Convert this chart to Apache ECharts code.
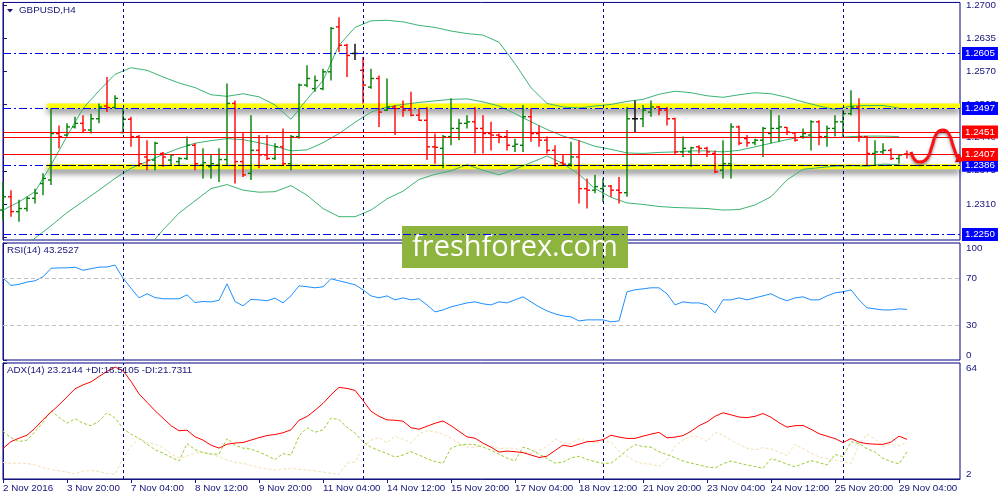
<!DOCTYPE html>
<html><head><meta charset="utf-8">
<script src="https://cdn.jsdelivr.net/npm/echarts@6/dist/echarts.min.js"></script>
<style>html,body{margin:0;padding:0;background:#fff}#c{width:1000px;height:500px}</style>
</head><body><div id="c"></div>
<script>
// ---------- DATA ----------
const tickLabels = ['2 Nov 2016','3 Nov 20:00','7 Nov 04:00','8 Nov 12:00','9 Nov 20:00','11 Nov 04:00','14 Nov 12:00','15 Nov 20:00','17 Nov 04:00','18 Nov 12:00','21 Nov 20:00','23 Nov 04:00','24 Nov 12:00','25 Nov 20:00','29 Nov 04:00'];
const barsPerLabel = 8;
const open  = [1.2298,1.2324,1.2295,1.2301,1.2321,1.2350,1.2357,1.2448,1.2445,1.2461,1.2468,1.2455,1.2477,1.2502,1.2499,1.2450,1.2476,1.2442,1.2402,1.2396,1.2409,1.2396,1.2393,1.2399,1.2425,1.2386,1.2383,1.2386,1.2397,1.2507,1.2393,1.2370,1.2415,1.2406,1.2399,1.2422,1.2389,1.2442,1.2543,1.2536,1.2536,1.2569,1.2657,1.2621,1.2605,1.2572,1.2539,1.2556,1.2494,1.2500,1.2500,1.2494,1.2484,1.2474,1.2422,1.2419,1.2442,1.2458,1.2468,1.2471,1.2458,1.2448,1.2445,1.2442,1.2423,1.2425,1.2481,1.2448,1.2435,1.2415,1.2391,1.2388,1.2402,1.2340,1.2337,1.2340,1.2345,1.2337,1.2332,1.2477,1.2477,1.2490,1.2500,1.2494,1.2477,1.2412,1.2412,1.2422,1.2419,1.2409,1.2376,1.2389,1.2461,1.2438,1.2430,1.2435,1.2448,1.2458,1.2460,1.2449,1.2442,1.2445,1.2471,1.2442,1.2458,1.2471,1.2487,1.2500,1.2442,1.2409,1.2412,1.2415,1.2399,1.2408];
const high  = [1.2353,1.2337,1.2318,1.2324,1.2340,1.2370,1.2497,1.2464,1.2468,1.2481,1.2484,1.2487,1.2507,1.2559,1.2523,1.2497,1.2481,1.2445,1.2435,1.2432,1.2412,1.2408,1.2402,1.2442,1.2429,1.2419,1.2406,1.2419,1.2546,1.2513,1.2451,1.2484,1.2445,1.2445,1.2429,1.2458,1.2445,1.2546,1.2582,1.2562,1.2575,1.2657,1.2676,1.2624,1.2624,1.2598,1.2575,1.2562,1.2556,1.2504,1.2513,1.2530,1.2497,1.2500,1.2448,1.2445,1.2517,1.2477,1.2484,1.2500,1.2484,1.2471,1.2448,1.2455,1.2438,1.2504,1.2497,1.2464,1.2442,1.2425,1.2406,1.2432,1.2435,1.2360,1.2367,1.2360,1.2347,1.2363,1.2500,1.2513,1.2504,1.2513,1.2502,1.2500,1.2479,1.2442,1.2422,1.2425,1.2422,1.2415,1.2435,1.2468,1.2464,1.2445,1.2438,1.2461,1.2494,1.2484,1.2461,1.2451,1.2458,1.2474,1.2474,1.2464,1.2484,1.2494,1.2533,1.2517,1.2443,1.2435,1.2429,1.2419,1.2408,1.2415];
const low   = [1.2278,1.2285,1.2275,1.2295,1.2311,1.2327,1.2347,1.2419,1.2442,1.2458,1.2451,1.2448,1.2468,1.2490,1.2497,1.2448,1.2422,1.2383,1.2376,1.2376,1.2383,1.2386,1.2386,1.2396,1.2376,1.2360,1.2360,1.2353,1.2386,1.2350,1.2363,1.2357,1.2380,1.2396,1.2396,1.2386,1.2376,1.2438,1.2539,1.2530,1.2533,1.2552,1.2608,1.2559,1.2592,1.2507,1.2536,1.2461,1.2492,1.2445,1.2481,1.2482,1.2473,1.2396,1.2389,1.2380,1.2425,1.2435,1.2458,1.2409,1.2409,1.2415,1.2429,1.2415,1.2412,1.2412,1.2432,1.2422,1.2409,1.2383,1.2386,1.2383,1.2311,1.2301,1.2331,1.2314,1.2324,1.2311,1.2324,1.2451,1.2461,1.2481,1.2484,1.2464,1.2408,1.2402,1.2383,1.2409,1.2402,1.2370,1.2360,1.2360,1.2425,1.2422,1.2425,1.2402,1.2429,1.2432,1.2445,1.2432,1.2438,1.2415,1.2425,1.2422,1.2442,1.2442,1.2484,1.2432,1.2386,1.2386,1.2406,1.2396,1.2389,1.2399];
const close = [1.2324,1.2295,1.2301,1.2321,1.2331,1.2360,1.2448,1.2442,1.2461,1.2468,1.2455,1.2477,1.2500,1.2499,1.2517,1.2476,1.2442,1.2389,1.2396,1.2429,1.2402,1.2406,1.2399,1.2425,1.2389,1.2391,1.2389,1.2397,1.2507,1.2393,1.2367,1.2415,1.2406,1.2399,1.2422,1.2389,1.2442,1.2543,1.2556,1.2552,1.2569,1.2654,1.2621,1.2601,1.2605,1.2543,1.2556,1.2490,1.2500,1.2497,1.2494,1.2484,1.2474,1.2422,1.2421,1.2442,1.2458,1.2468,1.2471,1.2458,1.2448,1.2445,1.2442,1.2425,1.2427,1.2481,1.2448,1.2435,1.2415,1.2389,1.2388,1.2402,1.2340,1.2337,1.2344,1.2345,1.2337,1.2332,1.2477,1.2477,1.2494,1.2500,1.2494,1.2477,1.2412,1.2419,1.2420,1.2419,1.2412,1.2373,1.2389,1.2461,1.2429,1.2430,1.2435,1.2458,1.2458,1.2461,1.2451,1.2435,1.2448,1.2471,1.2442,1.2458,1.2471,1.2487,1.2500,1.2442,1.2409,1.2412,1.2415,1.2399,1.2406,1.2407];
// Bollinger bands (20), read every 2nd bar
const bbStep = 2;
const bbUpper  = [1.2298,1.2314,1.2334,1.2386,1.2443,1.2497,1.2532,1.2564,1.2577,1.2572,1.2559,1.2547,1.2538,1.2524,1.2521,1.2526,1.2520,1.2504,1.2476,1.2515,1.2552,1.2621,1.2656,1.2669,1.2670,1.2667,1.2660,1.2656,1.2649,1.2644,1.2641,1.2627,1.2585,1.2538,1.2507,1.2500,1.2498,1.2502,1.2505,1.2511,1.2515,1.2525,1.2531,1.2528,1.2522,1.2519,1.2524,1.2528,1.2526,1.2519,1.2510,1.2502,1.2495,1.2502,1.2503,1.2503,1.2498];
const bbMiddle = [1.2192,1.2217,1.2243,1.2267,1.2293,1.2315,1.2337,1.2360,1.2380,1.2393,1.2407,1.2419,1.2429,1.2434,1.2438,1.2436,1.2430,1.2423,1.2414,1.2416,1.2430,1.2448,1.2470,1.2490,1.2500,1.2505,1.2509,1.2512,1.2515,1.2516,1.2510,1.2502,1.2487,1.2471,1.2456,1.2443,1.2434,1.2423,1.2417,1.2410,1.2409,1.2411,1.2412,1.2414,1.2414,1.2412,1.2415,1.2422,1.2429,1.2436,1.2442,1.2440,1.2440,1.2442,1.2443,1.2443,1.2442];
const bbLower  = [null,null,null,null,null,null,null,null,1.2187,1.2223,1.2259,1.2292,1.2316,1.2340,1.2348,1.2337,1.2333,1.2334,1.2346,1.2327,1.2301,1.2285,1.2285,1.2298,1.2320,1.2335,1.2358,1.2368,1.2375,1.2387,1.2376,1.2367,1.2378,1.2391,1.2404,1.2389,1.2368,1.2340,1.2323,1.2312,1.2309,1.2305,1.2303,1.2302,1.2301,1.2298,1.2299,1.2308,1.2324,1.2357,1.2378,1.2381,1.2384,1.2385,1.2384,1.2388,1.2387];
const rsi = [70.0,63.7,64.7,66.6,67.7,71.1,78.4,78.7,78.8,79.3,76.7,78.0,79.4,79.5,81.1,70.0,61.4,53.1,56.6,53.4,52.3,52.3,52.3,55.7,49.1,50.0,49.7,51.0,65.1,50.0,46.3,51.8,51.4,50.6,52.9,48.8,54.8,63.4,
  62.6,61.7,62.6,69.4,67.7,66.0,64.3,60.0,54.8,53.1,54.8,51.4,53.1,51.4,52.3,47.1,41.1,42.8,45.4,47.1,48.8,49.7,48.0,47.1,49.7,48.8,51.4,54.0,49.7,45.4,42.0,39.4,37.7,36.8,33.4,34.3,34.3,34.3,32.6,33.4,58.3,60.0,60.8,61.7,61.7,56.6,47.1,49.7,48.8,48.8,47.1,40.3,51.4,51.4,53.1,51.4,53.1,54.8,56.6,53.1,50.6,53.1,54.0,51.4,51.4,54.8,57.4,58.3,60.0,51.4,44.6,43.7,42.8,42.8,43.7,43.25];
const adx = [18.3,22.0,23.8,25.4,29.1,33.7,37.7,41.6,45.9,50.2,52.3,53.9,56.8,59.5,61.8,60.0,54.2,47.5,43.0,38.5,34.5,30.5,27.8,28.1,24.6,22.8,20.1,18.5,20.6,21.2,21.5,22.8,24.1,25.2,25.8,26.7,28.3,33.4,35.4,38.7,42.4,47.0,51.0,50.4,49.4,44.0,38.2,35.5,33.6,33.4,32.9,29.4,28.6,30.2,31.8,33.0,30.5,27.5,24.5,23.8,21.2,19.0,16.4,16.9,16.6,16.1,14.8,13.5,14.2,17.2,20.1,19.3,20.6,21.9,22.2,23.0,25.4,24.4,23.7,23.7,24.9,26.0,26.9,24.0,24.4,25.2,27.5,30.5,32.5,35.5,37.4,36.3,35.1,34.8,35.5,37.0,35.0,32.1,29.7,30.5,30.6,28.6,26.2,24.9,23.6,21.5,23.6,21.7,20.9,20.6,20.5,21.7,24.9,23.2];
const plusDI = [27.5,24.1,22.0,22.8,27.3,32.3,38.5,35.0,31.8,34.2,31.8,30.5,32.9,37.4,34.7,29.0,25.9,23.8,20.6,17.7,15.8,13.7,11.6,20.9,17.7,16.1,15.3,15.3,23.6,20.1,18.5,18.0,16.4,14.5,12.4,15.6,14.8,24.9,29.4,27.0,28.3,34.5,33.7,29.7,26.5,21.9,19.0,17.2,15.6,13.7,14.8,16.6,14.8,12.9,11.3,10.4,18.5,20.1,20.6,20.4,19.0,17.4,15.3,13.2,11.6,19.0,17.7,15.3,12.9,10.5,11.0,13.2,14.2,12.4,11.3,10.4,10.4,13.7,17.4,20.4,19.3,19.0,16.6,15.0,13.4,11.6,10.5,9.5,8.4,7.9,10.2,11.6,10.5,9.5,8.7,7.7,12.9,11.6,10.0,8.5,10.2,11.8,10.8,9.5,15.1,13.9,21.9,20.9,18.2,16.4,13.0,11.3,10.1,16.5];
const minusDI = [10.9,10.4,10.5,10.2,9.5,8.1,7.1,6.5,5.7,4.7,6.3,6.5,6.0,4.9,4.7,13.0,19.6,23.6,21.4,20.6,18.8,15.3,13.2,14.2,15.8,16.4,15.3,14.0,12.1,11.0,10.4,9.2,8.1,7.3,6.8,7.3,7.6,7.2,6.9,6.3,5.8,4.9,4.4,10.5,11.0,19.0,22.8,24.1,21.4,24.9,23.3,21.2,26.0,27.8,27.3,26.0,23.8,21.2,19.0,19.0,20.1,19.3,18.3,18.5,18.5,16.4,15.7,17.4,19.3,23.6,21.2,20.9,23.6,22.2,21.2,22.0,21.7,16.9,14.2,11.6,10.2,10.0,8.7,12.1,19.6,22.8,24.9,24.4,22.0,27.0,25.4,22.8,20.4,18.5,17.6,18.8,18.0,16.4,14.5,20.5,18.2,15.8,13.7,12.9,12.1,11.2,10.4,20.1,26.0,23.3,19.3,20.6,19.8,21.7];
const priceTicks = [1.2700,1.2635,1.2570,1.2505,1.2440,1.2375,1.2310,1.2245];
const rsiTicks = [0,30,70,100];
const rsiLevels = [70,30];
const adxTicks = [2,64];
const blueLevels = [1.2605,1.2497,1.2386,1.2250];      // labelled
const redLevelsLabelled = [1.2451,1.2407];
const redLevelsPlain = [1.2440];
const trendLevel = 1.2386;
const resistanceZone = [1.2497,1.2507];
const supportZone = [1.2378,1.2388];
const zoneStartBar = 5.5;
const weekStartBars = [15,45,75,105];
const forecastPath = [[113.5,1.2412],[114.0,1.2396],[114.6,1.2392],[115.5,1.2399],[116.1,1.2422],[116.7,1.2448],[117.5,1.2455],[118.2,1.2448],[118.8,1.2422],[119.4,1.2399],[119.8,1.2396]];

// ---------- CHART ----------
const NAVY = '#14147a';
const FONT = "'Liberation Sans', Arial, sans-serif";
const X_MAX = 119.625;
const chart = echarts.init(document.getElementById('c'), null, {renderer:'canvas'});
const tickPos = tickLabels.map((_, k) => k * barsPerLabel);

function xAxisCfg(idx, showLabels){
  return {
    type:'value', gridIndex: idx, min:0, max:X_MAX,
    axisLine:{show:showLabels, lineStyle:{color:NAVY}},
    splitLine:{show:false},
    axisTick:{show:showLabels, customValues: tickPos, length:4, lineStyle:{color:NAVY}},
    axisLabel:{show:showLabels, customValues: tickPos, align:'left', margin:4, color:NAVY, fontSize:9.8, fontFamily:FONT,
      formatter: v => tickLabels[Math.round(v / barsPerLabel)] || ''}
  };
}
function yAxisCfg(idx, min, max, ticks, fmt, edgeAlign){
  const lab = {show:true, customValues: ticks, margin:6, color:NAVY, fontSize:9.8, fontFamily:FONT, formatter: fmt};
  if (edgeAlign) { lab.verticalAlignMaxLabel = 'top'; lab.verticalAlignMinLabel = 'bottom'; }
  return {
    type:'value', gridIndex: idx, position:'right', min, max,
    axisLine:{show:true, lineStyle:{color:NAVY}},
    splitLine:{show:false},
    axisTick:{show:true, customValues: ticks, length:4, lineStyle:{color:NAVY}},
    axisLabel: lab
  };
}
const sepLines = weekStartBars.map(b => ({xAxis:b, lineStyle:{color:'#000080', type:[3,3], width:1}, label:{show:false}}));

function boxLabel(bg){
  return {show:true, position:'end', distance:2, formatter: p => Number(p.value).toFixed(4),
    backgroundColor:bg, color:'#ffffff', fontSize:9.8, fontFamily:FONT, padding:[2,3,1,3]};
}
const priceMarks = [].concat(
  sepLines,
  blueLevels.map(v => ({yAxis:v, lineStyle:{color:'#0000ff', type:[8,3,2,3], width:1}, label:boxLabel('#0000ff')})),
  redLevelsPlain.map(v => ({yAxis:v, lineStyle:{color:'#ff0000', type:'solid', width:1}, label:{show:false}})),
  redLevelsLabelled.map(v => ({yAxis:v, lineStyle:{color:'#ff0000', type:'solid', width:1}, label:boxLabel('#ff0000')})),
  [[{coord:[zoneStartBar, trendLevel], lineStyle:{color:'#000000', type:[5,3], width:1.2}, label:{show:false}}, {coord:[X_MAX, trendLevel]}]]
);

const ohlcData = open.map((o, i) => [i, o, high[i], low[i], close[i]]);
const bbSeries = (arr) => arr.map((v, k) => [k * bbStep, v]);
const zones = [[zoneStartBar, X_MAX, resistanceZone[0], resistanceZone[1]], [zoneStartBar, X_MAX, supportZone[0], supportZone[1]]];
const nP = forecastPath.length;
const arrowData = [[forecastPath[nP-2][0], forecastPath[nP-2][1], forecastPath[nP-1][0], forecastPath[nP-1][1]]];

const option = {
  animation:false,
  backgroundColor:'#ffffff',
  textStyle:{fontFamily:FONT},
  grid:[
    {left:3, right:40, top:2, height:238, show:true, borderColor:'#000080', borderWidth:1, backgroundColor:'#fff'},
    {left:3, right:40, top:243, height:117, show:true, borderColor:'#000080', borderWidth:1, backgroundColor:'#fff'},
    {left:3, right:40, top:363, height:116, show:true, borderColor:'#000080', borderWidth:1, backgroundColor:'#fff'}
  ],
  xAxis:[xAxisCfg(0,false), xAxisCfg(1,false), xAxisCfg(2,true)],
  yAxis:[
    yAxisCfg(0, 1.22393, 1.27050, priceTicks, v => Number(v).toFixed(4), false),
    yAxisCfg(1, 0, 100, rsiTicks, v => String(v), true),
    yAxisCfg(2, 2, 64, adxTicks, v => String(v), true)
  ],
  graphic:[
    {type:'polygon', shape:{points:[[7,9],[13,9],[10,12.5]]}, style:{fill:NAVY}, z:100},
    {type:'text', left:19, top:5, style:{text:'GBPUSD,H4', fill:NAVY, font:'9.8px ' + FONT}, z:100},
    {type:'text', left:7, top:245, style:{text:'RSI(14) 43.2527', fill:NAVY, font:'9.8px ' + FONT}, z:100},
    {type:'text', left:7, top:365, style:{text:'ADX(14) 23.2144 +DI:16.5105 -DI:21.7311', fill:NAVY, font:'9.8px ' + FONT}, z:100},
    {type:'group', z:200, children:[
      {type:'rect', shape:{x:402, y:226, width:226, height:42}, style:{fill:'#8cb43f'}},
      {type:'text', x:515, y:248, style:{text:'freshforex.com', fill:'#ffffff', font:'29px "Open Sans", "Noto Sans", sans-serif', align:'center', verticalAlign:'middle'}}
    ]}
  ],
  series:[
    // yellow zones
    {type:'custom', xAxisIndex:0, yAxisIndex:0, z:1, data:zones, encode:{x:[0,1], y:[2,3]},
      renderItem:(params, api) => {
        const a = api.coord([api.value(0), api.value(3)]);
        const b = api.coord([api.value(1), api.value(2)]);
        return {type:'rect', shape:{x:a[0], y:a[1], width:b[0]-a[0], height:b[1]-a[1]},
          style:{fill:'#ffff00', shadowColor:'rgba(0,0,0,0.55)', shadowBlur:6, shadowOffsetY:4}};
      }},
    // Bollinger
    {type:'line', xAxisIndex:0, yAxisIndex:0, z:2, data:bbSeries(bbUpper), showSymbol:false, symbol:'none', lineStyle:{color:'#3cb371', width:1}},
    {type:'line', xAxisIndex:0, yAxisIndex:0, z:2, data:bbSeries(bbMiddle), showSymbol:false, symbol:'none', lineStyle:{color:'#3cb371', width:1},
      markLine:{silent:true, symbol:'none', animation:false, precision:4, data:priceMarks}},
    {type:'line', xAxisIndex:0, yAxisIndex:0, z:2, data:bbSeries(bbLower), showSymbol:false, symbol:'none', lineStyle:{color:'#3cb371', width:1}},
    // OHLC bars
    {type:'custom', xAxisIndex:0, yAxisIndex:0, z:4, data:ohlcData, encode:{x:0, y:[1,2,3,4]},
      renderItem:(params, api) => {
        const i = api.value(0), o = api.value(1), h = api.value(2), l = api.value(3), c = api.value(4);
        const pH = api.coord([i,h]), pL = api.coord([i,l]), pO = api.coord([i,o]), pC = api.coord([i,c]);
        const x = pH[0];
        const col = c > o ? '#007f00' : (c < o ? '#ff0000' : '#000000');
        const st = {stroke:col, lineWidth:1.4};
        return {type:'group', children:[
          {type:'line', shape:{x1:x, y1:pH[1], x2:x, y2:pL[1]}, style:st},
          {type:'line', shape:{x1:x-3, y1:pO[1], x2:x, y2:pO[1]}, style:st},
          {type:'line', shape:{x1:x, y1:pC[1], x2:x+3, y2:pC[1]}, style:st}
        ]};
      }},
    // forecast curve
    {type:'line', xAxisIndex:0, yAxisIndex:0, z:6, data:forecastPath, smooth:0.5, clip:false, showSymbol:false, symbol:'none',
      lineStyle:{color:'#ff1010', width:3, shadowColor:'rgba(0,0,0,0.45)', shadowBlur:3, shadowOffsetY:2}},
    {type:'custom', xAxisIndex:0, yAxisIndex:0, z:6, clip:false, data:arrowData, encode:{x:[0,2], y:[1,3]},
      renderItem:(params, api) => {
        const p1 = api.coord([api.value(0), api.value(1)]);
        const p2 = api.coord([api.value(2), api.value(3)]);
        let dx = p2[0]-p1[0], dy = p2[1]-p1[1]; const L = Math.hypot(dx,dy) || 1; dx/=L; dy/=L;
        const tip = [p2[0]+dx*3, p2[1]+dy*3], base = [p2[0]-dx*5, p2[1]-dy*5];
        return {type:'polygon', shape:{points:[tip, [base[0]-dy*5, base[1]+dx*5], [base[0]+dy*5, base[1]-dx*5]]}, style:{fill:'#ff1010'}};
      }},
    // RSI
    {type:'line', xAxisIndex:1, yAxisIndex:1, z:3, data:rsi.map((v,i)=>[i,v]), showSymbol:false, symbol:'none', lineStyle:{color:'#1e90ff', width:1},
      markLine:{silent:true, symbol:'none', animation:false, precision:4, data:[].concat(sepLines,
        rsiLevels.map(v => ({yAxis:v, lineStyle:{color:'#c0c0c0', type:[4,3], width:1}, label:{show:false}})))}},
    // ADX
    {type:'line', xAxisIndex:2, yAxisIndex:2, z:3, data:minusDI.map((v,i)=>[i,v]), showSymbol:false, symbol:'none', lineStyle:{color:'#f5deb3', width:1, type:[3,2]}},
    {type:'line', xAxisIndex:2, yAxisIndex:2, z:3, data:plusDI.map((v,i)=>[i,v]), showSymbol:false, symbol:'none', lineStyle:{color:'#9acd32', width:1, type:[3,2]}},
    {type:'line', xAxisIndex:2, yAxisIndex:2, z:4, data:adx.map((v,i)=>[i,v]), showSymbol:false, symbol:'none', lineStyle:{color:'#ff0000', width:1},
      markLine:{silent:true, symbol:'none', animation:false, data:sepLines}}
  ]
};
chart.setOption(option);
</script>
</body></html>
